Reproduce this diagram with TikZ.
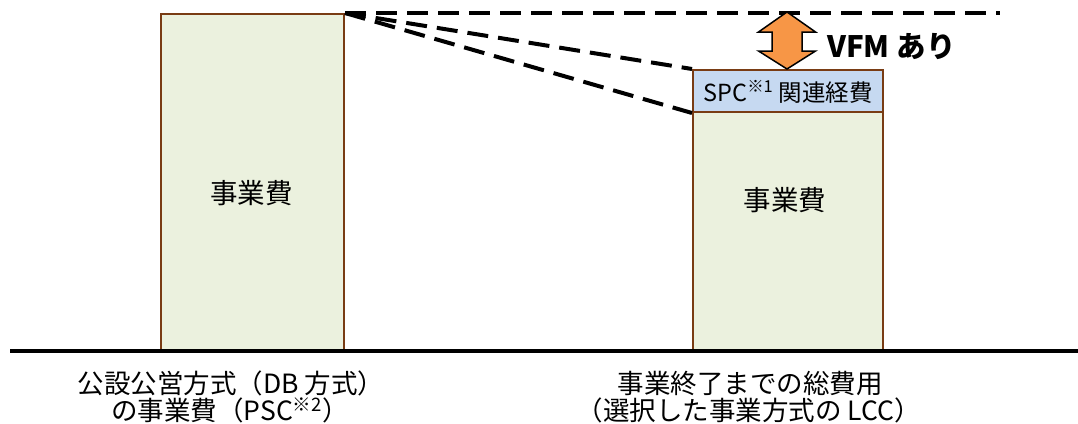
\documentclass[tikz,border=0pt]{standalone}
\usepackage{fontspec}
\usetikzlibrary{calc}
\setmainfont{Noto Sans CJK JP}
\definecolor{barfill}{RGB}{235,241,222}
\definecolor{barline}{RGB}{121,60,20}
\definecolor{spcfill}{RGB}{198,217,241}
\definecolor{arrowfill}{RGB}{247,150,70}
\begin{document}
\begin{tikzpicture}[x=1pt,y=-1pt,
  bar/.style={draw=barline, fill=barfill, line width=2pt, inner sep=0pt, anchor=north west},
  spcbox/.style={draw=barline, fill=spcfill, line width=2pt, inner sep=0pt, anchor=north west},
  bartext/.style={font=\fontsize{27.5}{30}\selectfont, inner sep=0pt},
  spctext/.style={font=\fontsize{23.5}{26}\selectfont, inner sep=0pt},
  lbl/.style={font=\fontsize{26.5}{28}\selectfont, inner sep=0pt},
  vfm/.style={font=\bfseries\fontsize{29.5}{31}\selectfont, inner sep=0pt, anchor=west},
  dashline/.style={line width=4pt, dash pattern=on 21pt off 10pt},
  baseline/.style={line width=4pt}]
\useasboundingbox (0,0) rectangle (1078,423);
% bars
\node[bar, minimum width=183pt, minimum height=338pt] (lbar) at (160,13) {};
\node[bar, minimum width=190pt, minimum height=240pt] (rbar) at (692,111) {};
\node[spcbox, minimum width=190pt, minimum height=42pt] (spc) at (692,69) {};
\node[bartext] (ltext) at (251.5,193.5) {事業費};
\node[bartext] (rtext) at (785,200) {事業費};
\node[spctext] (spct) at ($(spc.center)+(0,1)$) {SPC\textsuperscript{※1} 関連経費};
% baseline
\coordinate (basel) at (10,351);
\coordinate (baser) at (1078,351);
\draw[baseline] (basel) -- (baser);
% dashed lines
\coordinate (dend) at (1000,13);
\draw[dashline] (lbar.north east) -- (dend);
\draw[dashline] (lbar.north east) -- (spc.north west);
\draw[dashline] (lbar.north east) -- (spc.south west);
% double arrow
\coordinate (ac) at (787,0);
\draw[fill=arrowfill, line width=1.5pt, line join=miter]
  ($(ac)+(0,12)$) -- ($(ac)+(28.5,32)$) -- ($(ac)+(15,32)$) -- ($(ac)+(15,51)$)
  -- ($(ac)+(28.5,51)$) -- ($(ac)+(0,69)$) -- ($(ac)+(-28.5,51)$) -- ($(ac)+(-15,51)$)
  -- ($(ac)+(-15,32)$) -- ($(ac)+(-28.5,32)$) -- cycle;
\node[vfm] (vfmt) at (827,47) {VFM あり};
% labels
\node[lbl] (l1) at (231,383) {公設公営方式（DB 方式）};
\node[lbl] (l2) at (230,410) {の事業費（PSC\textsuperscript{※2}）};
\node[lbl] (r1) at (750,383) {事業終了までの総費用};
\node[lbl] (r2) at (749,410) {（選択した事業方式の LCC）};
\end{tikzpicture}
\end{document}
